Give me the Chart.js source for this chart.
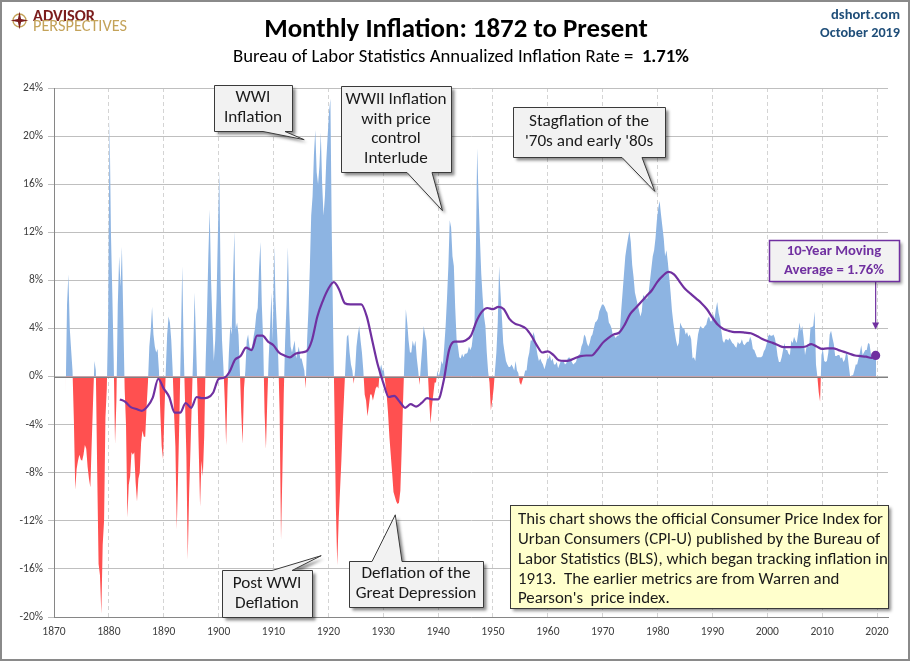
<!DOCTYPE html>
<html>
<head>
<meta charset="utf-8">
<title>Monthly Inflation: 1872 to Present</title>
<script src="https://cdn.jsdelivr.net/npm/chart.js@4.4.1/dist/chart.umd.min.js"></script>
<style>
    html, body { margin: 0; padding: 0; background: #fff; }
    #wrap { width: 910px; height: 661px; }
</style>
</head>
<body>
<div id="wrap"><canvas id="inflationChart" width="910" height="661"></canvas></div>
<script>
const FONT = "Carlito, Lato, 'Open Sans', sans-serif";

// year-over-year inflation, one value per quarter (Q1..Q4 on each line)
const firstYear = 1872;
const quarterlyRate = [
    -1.5, 6.0, 8.5, 4.0,       2.2, 0.5, -3.7, -9.4,      -7.7, -7.0, -6.5, -6.9,    // 1872-1874
    -7.0, -6.5, -5.7, -6.0,    -7.5, -8.5, -9.2, -5.5,    -2.0, 1.3, 0.5, -8.0,      // 1875-1877
    -15.6, -16.5, -19.7, -14.0, -12.0, -3.4, -1.0, 5.0,   21.5, 12.0, 7.0, 1.5,      // 1878-1880
    -5.6, -2.0, 6.0, 10.0,     7.5, 10.8, 5.0, -1.0,      -4.0, -11.7, -9.0, -8.3,   // 1881-1883
    -6.3, -6.5, -6.3, -8.8,    -10.4, -8.5, -8.0, -5.5,   -4.5, -5.0, -5.0, -2.5,    // 1884-1886
    -0.5, 2.5, 3.8, 5.8,       3.5, 2.5, 2.0, 2.3,        0.5, -3.0, -5.8, -6.9,     // 1887-1889
    -3.0, 0.5, 3.5, 5.0,       4.5, 3.0, 0.5, -3.0,       -5.8, -12.7, -8.0, -3.0,   // 1890-1892
    3.0, 9.2, 2.5, -2.0,       -6.5, -15.2, -9.8, -6.0,   -2.0, 2.0, 7.0, 3.0,       // 1893-1895
    -1.0, -6.0, -10.8, -7.0,   -8.3, -5.0, 1.0, 5.0,      10.0, 13.9, 8.0, 4.5,      // 1896-1898
    1.3, 3.0, 6.5, 12.0,       17.1, 7.7, 3.0, 0.8,       -2.0, -5.7, -1.0, 2.0,     // 1899-1901
    4.2, 3.5, 8.0, 12.1,       4.0, 4.5, 3.5, 0.5,        -3.0, -5.6, -1.0, 0.5,     // 1902-1904
    3.0, 3.5, 2.5, 2.3,        2.5, 3.3, 4.0, 5.2,        5.7, 9.0, 11.2, 6.0,       // 1905-1907
    3.0, -3.0, -6.0, -2.0,     1.5, 4.0, 7.0, 3.0,        10.9, 6.5, 4.0, 1.5,       // 1908-1910
    -3.0, -13.6, -8.0, -1.5,   3.0, 6.0, 10.8, 5.5,       2.5, 2.0, 2.5, 3.0,        // 1911-1913
    1.5, 2.0, 2.5, 1.5,        1.5, 1.0, 0.5, -1.0,       3.0, 5.6, 9.0, 13.4,       // 1914-1916
    15.0, 18.5, 20.5, 17.0,    16.0, 17.5, 20.3, 16.0,    13.4, 15.0, 18.0, 20.0,    // 1917-1919
    22.0, 23.1, 12.0, 4.0,     -3.0, -11.0, -15.7, -12.0, -9.5, -7.0, -4.0, -1.5,    // 1920-1922
    1.0, 3.3, 3.5, 2.0,        1.0, 0.5, -0.6, 0.5,       2.5, 3.5, 4.2, 3.0,        // 1923-1925
    2.0, 0.5, -1.5, -2.0,      -3.3, -2.5, -1.5, -1.5,    -2.0, -1.5, -1.0, -0.8,    // 1926-1928
    -1.0, 0.5, 1.0, 0.5,       0.5, -0.5, -1.5, -3.0,     -5.0, -6.5, -8.0, -9.6,    // 1929-1931
    -10.0, -10.4, -10.6, -10.5, -9.5, -6.0, -2.0, 1.5,    5.6, 4.5, 3.0, 2.0,        // 1932-1934
    2.0, 3.0, 2.5, 3.0,        1.5, 0.5, -0.7, 1.0,       2.5, 4.2, 3.5, 3.0,        // 1935-1937
    0.5, -2.0, -3.9, -2.5,     -1.5, -0.5, -0.5, 0.5,     0.0, 0.5, 1.3, 1.0,        // 1938-1940
    2.5, 4.2, 6.5, 9.2,        13.0, 12.4, 10.0, 9.2,     5.7, 3.1, 2.5, 1.6,        // 1941-1943
    1.5, 1.9, 1.6, 1.9,        1.9, 2.0, 2.5, 2.2,        2.5, 3.5, 4.2, 10.0,       // 1944-1946
    19.0, 15.0, 11.5, 8.5,     6.6, 5.0, 4.2, 2.0,        0.4, -0.5, -2.8, -2.0,     // 1947-1949
    -1.0, 0.5, 2.0, 4.5,       9.2, 7.0, 5.0, 2.8,        2.0, 1.3, 1.0, 0.8,        // 1950-1952
    0.8, 1.0, 0.8, 0.5,        1.3, 0.5, 0.3, -0.5,       -0.7, -0.3, 0.0, 0.5,      // 1953-1955
    0.5, 1.5, 2.0, 3.0,        3.0, 3.7, 3.3, 2.5,        1.8, 1.3, 1.5, 1.2,        // 1956-1958
    1.0, 0.6, 1.0, 1.5,        1.5, 1.8, 1.3, 1.5,        1.0, 1.0, 1.2, 0.7,        // 1959-1961
    1.0, 1.3, 1.2, 1.3,        1.0, 1.1, 1.5, 1.6,        1.5, 1.2, 1.0, 1.1,        // 1962-1964
    1.2, 1.6, 1.8, 1.9,        2.5, 2.8, 3.5, 3.3,        2.8, 2.5, 2.8, 3.3,        // 1965-1967
    3.5, 4.0, 4.5, 4.6,        4.8, 5.4, 5.7, 6.0,        6.0, 5.8, 5.5, 5.3,        // 1968-1970
    4.5, 4.3, 4.0, 3.4,        3.4, 3.2, 3.4, 3.4,        3.8, 5.5, 7.0, 8.5,        // 1971-1973
    10.0, 10.8, 11.5, 12.1,    11.2, 9.3, 8.3, 7.0,       6.5, 6.0, 5.5, 5.0,        // 1974-1976
    5.4, 6.8, 6.6, 6.5,        6.5, 7.0, 8.0, 9.0,        10.0, 10.5, 11.5, 13.0,    // 1977-1979
    14.0, 14.6, 13.5, 12.5,    11.5, 10.0, 10.5, 9.5,     8.3, 7.0, 5.5, 4.5,        // 1980-1982
    3.7, 3.0, 2.5, 2.8,        4.5, 4.2, 4.0, 4.0,        3.5, 3.7, 3.3, 3.5,        // 1983-1985
    3.1, 1.5, 1.6, 1.3,        2.5, 3.5, 4.0, 4.2,        4.0, 4.0, 4.2, 4.3,        // 1986-1988
    4.8, 5.0, 4.6, 4.6,        5.2, 4.8, 5.6, 6.2,        5.3, 4.8, 3.8, 3.0,        // 1989-1991
    2.8, 3.1, 3.1, 3.0,        3.2, 3.0, 2.8, 2.7,        2.5, 2.4, 2.9, 2.7,        // 1992-1994
    2.8, 3.1, 2.7, 2.6,        2.8, 2.9, 2.9, 3.3,        3.0, 2.3, 2.2, 1.9,        // 1995-1997
    1.6, 1.6, 1.6, 1.6,        1.7, 2.1, 2.3, 2.7,        3.3, 3.5, 3.4, 3.4,        // 1998-2000
    3.5, 3.2, 2.6, 1.7,        1.2, 1.2, 1.6, 2.2,        2.8, 2.2, 2.2, 1.9,        // 2001-2003
    1.8, 3.0, 2.8, 3.3,        3.0, 2.8, 3.6, 4.5,        3.8, 4.2, 3.2, 1.8,        // 2004-2006
    2.4, 2.7, 2.4, 4.1,        4.1, 4.2, 5.4, 1.0,        0.0, -1.3, -2.1, 1.8,      // 2007-2009
    2.3, 1.3, 1.2, 1.3,        2.0, 3.5, 3.8, 3.2,        2.7, 1.7, 1.7, 1.8,        // 2010-2012
    1.8, 1.5, 1.6, 1.2,        1.4, 2.0, 1.8, 0.8,        -0.1, 0.1, 0.1, 0.5,       // 2013-2015
    1.0, 1.0, 1.5, 2.0,        2.6, 1.8, 2.0, 2.2,        2.2, 2.8, 2.7, 1.9,        // 2016-2018
    1.6, 1.8, 1.7, 1.7                                                               // 2019
];

// 10-year moving average, one value per year
const maFirstYear = 1882;
const movingAvg = [
    -1.9, -2.1, -2.55, -2.7, -2.85, -2.5, -1.75, -0.2,          // 1882-1889
    -1.0, -1.7, -3.0, -3.0, -2.2, -2.6, -1.7, -1.8, -1.75, -1.35, // 1890-1899
    -0.2, -0.1, 0.4, 1.4, 1.7, 2.4, 2.2, 3.4, 3.4, 2.9,         // 1900-1909
    2.6, 2.0, 1.75, 1.6, 1.9, 2.0, 2.1, 3.0, 5.0, 6.3,          // 1910-1919
    7.3, 7.85, 7.2, 6.1, 6.0, 6.0, 6.0, 5.0, 3.0, 1.0,          // 1920-1929
    -0.5, -1.7, -1.6, -2.1, -2.6, -2.3, -2.5, -2.2, -1.8, -1.9, // 1930-1939
    -1.9, -0.4, 2.2, 2.9, 2.9, 3.0, 3.4, 4.6, 5.4, 5.7,         // 1940-1949
    5.6, 5.8, 5.6, 4.8, 4.4, 4.25, 4.0, 3.4, 2.6, 2.0,          // 1950-1959
    2.1, 1.8, 1.35, 1.3, 1.35, 1.55, 1.7, 1.75, 1.75, 2.2,      // 1960-1969
    2.8, 3.2, 3.5, 3.65, 4.3, 5.2, 5.7, 6.2, 6.7, 7.2,          // 1970-1979
    7.9, 8.4, 8.7, 8.5, 7.9, 7.3, 6.9, 6.5, 6.1, 5.6,           // 1980-1989
    4.9, 4.3, 3.95, 3.8, 3.7, 3.7, 3.65, 3.6, 3.4, 3.15,        // 1990-1999
    2.95, 2.8, 2.6, 2.45, 2.45, 2.45, 2.45, 2.5, 2.7, 2.5,      // 2000-2009
    2.3, 2.35, 2.35, 2.2, 2.05, 1.9, 1.75, 1.7, 1.65, 1.55      // 2010-2019
];
const maLatestYear = 2019.75;
const maLatest = 1.76;
const latestRate = '1.71%';

const xMin = 1870, xMax = 2022, xStep = 10;
const yMin = -20, yMax = 24, yStep = 4;

const ratePoints = quarterlyRate.map((v, i) => ({ x: firstYear + (i + 0.5) / 4, y: v }));
const maPoints = movingAvg.map((v, i) => ({ x: maFirstYear + i, y: v }));
maPoints.push({ x: maLatestYear, y: maLatest });

// callout boxes: box = [left, top, width, height] in px, tip = [year, pct], base = pointer root x range
const callouts = [
    { lines: ['WWI', 'Inflation'], box: [214, 85, 78, 46], tip: [1915.6, 19.7], base: [263, 285] },
    { lines: ['WWII Inflation', 'with price', 'control', 'Interlude'], box: [341, 86, 110, 86], tip: [1940.8, 13.8], base: [407, 432] },
    { lines: ['Stagflation of the', "'70s and early '80s"], box: [513, 107, 152, 50], tip: [1979.5, 15.4], base: [622, 642] },
    { lines: ['Post WWI', 'Deflation'], box: [222, 570, 90, 47], tip: [1918.7, -14.9], base: [272, 292] },
    { lines: ['Deflation of the', 'Great Depression'], box: [349, 561, 134, 46], tip: [1932.2, -11.5], base: [372, 402] }
];

const noteLines = [
    'This chart shows the official Consumer Price Index for',
    'Urban Consumers (CPI-U) published by the Bureau of',
    'Labor Statistics (BLS), which began tracking inflation in',
    '1913.  The earlier metrics are from Warren and',
    "Pearson's  price index."
];

function fitSize(ctx, text, weight, target) {
    ctx.font = `${weight} 20px ${FONT}`;
    return 20 * target / ctx.measureText(text).width;
}

function drawCallout(ctx, chart, c, size) {
    const xs = chart.scales.x, ys = chart.scales.y;
    const [bx, by, bw, bh] = c.box;
    const l = bx + 0.5, t = by + 0.5, r = bx + bw + 0.5, b = by + bh + 0.5;
    const tx = xs.getPixelForValue(c.tip[0]);
    const ty = ys.getPixelForValue(c.tip[1]);

    ctx.save();
    ctx.beginPath();
    if (ty > b) {
        ctx.moveTo(l, t); ctx.lineTo(r, t); ctx.lineTo(r, b);
        ctx.lineTo(c.base[1], b); ctx.lineTo(tx, ty); ctx.lineTo(c.base[0], b);
        ctx.lineTo(l, b);
    } else {
        ctx.moveTo(l, t); ctx.lineTo(c.base[0], t); ctx.lineTo(tx, ty); ctx.lineTo(c.base[1], t);
        ctx.lineTo(r, t); ctx.lineTo(r, b); ctx.lineTo(l, b);
    }
    ctx.closePath();
    ctx.shadowColor = 'rgba(0,0,0,0.45)';
    ctx.shadowOffsetX = 3;
    ctx.shadowOffsetY = 3;
    ctx.shadowBlur = 3;
    ctx.fillStyle = '#f2f2f2';
    ctx.fill();
    ctx.shadowColor = 'transparent';
    ctx.lineWidth = 1;
    ctx.strokeStyle = '#3a3a3a';
    ctx.stroke();

    ctx.fillStyle = '#1a1a1a';
    ctx.font = `${size}px ${FONT}`;
    ctx.textAlign = 'center';
    ctx.textBaseline = 'middle';
    const lh = c.lines.length > 2 ? 19.5 : 20;
    const y0 = by + bh / 2 - (c.lines.length - 1) * lh / 2;
    c.lines.forEach((s, i) => ctx.fillText(s, bx + bw / 2, y0 + i * lh));
    ctx.restore();
}

function drawHeader(ctx) {
    ctx.save();
    // frame
    ctx.strokeStyle = '#8a8a8a';
    ctx.lineWidth = 2;
    ctx.strokeRect(1, 1, 908, 659);

    // logo
    ctx.strokeStyle = '#c4a35a';
    ctx.lineWidth = 1.4;
    ctx.beginPath(); ctx.arc(19.5, 20.5, 6.5, 0, Math.PI * 2); ctx.stroke();
    ctx.fillStyle = '#7b1c1c';
    ctx.beginPath();
    for (let k = 0; k < 8; k++) {
        const a = k * Math.PI / 4 - Math.PI / 2;
        const rad = k % 2 === 0 ? 9 : 2.2;
        const px = 19.5 + rad * Math.cos(a), py = 20.5 + rad * Math.sin(a);
        k === 0 ? ctx.moveTo(px, py) : ctx.lineTo(px, py);
    }
    ctx.closePath(); ctx.fill();
    ctx.textAlign = 'left';
    ctx.textBaseline = 'alphabetic';
    ctx.fillStyle = '#7b1c1c';
    ctx.font = `bold ${fitSize(ctx, 'ADVISOR', 'bold', 62)}px ${FONT}`;
    ctx.fillText('ADVISOR', 33, 20.5);
    ctx.fillStyle = '#c4a35a';
    ctx.font = `${fitSize(ctx, 'PERSPECTIVES', 'normal', 94)}px ${FONT}`;
    ctx.fillText('PERSPECTIVES', 33, 31);

    // title
    const title = 'Monthly Inflation: 1872 to Present';
    ctx.fillStyle = '#000';
    ctx.textAlign = 'center';
    ctx.font = `bold ${fitSize(ctx, title, 'bold', 384)}px ${FONT}`;
    ctx.fillText(title, 456, 37);

    // subtitle (regular + bold value)
    const sub = 'Bureau of Labor Statistics Annualized Inflation Rate =  ';
    ctx.font = `normal 20px ${FONT}`;
    const w1 = ctx.measureText(sub).width;
    ctx.font = `bold 20px ${FONT}`;
    const w2 = ctx.measureText(latestRate).width;
    const s = 20 * 456 / (w1 + w2);
    ctx.textAlign = 'left';
    ctx.font = `normal ${s}px ${FONT}`;
    ctx.fillText(sub, 233, 62);
    ctx.font = `bold ${s}px ${FONT}`;
    ctx.fillText(latestRate, 233 + w1 * s / 20, 62);

    // source and date
    ctx.fillStyle = '#1f4e79';
    ctx.textAlign = 'right';
    ctx.font = `bold ${fitSize(ctx, 'dshort.com', 'bold', 69)}px ${FONT}`;
    ctx.fillText('dshort.com', 900, 19);
    ctx.font = `bold ${fitSize(ctx, 'October 2019', 'bold', 80)}px ${FONT}`;
    ctx.fillText('October 2019', 900, 37);
    ctx.restore();
}

function drawNote(ctx) {
    const bx = 510, by = 505, bw = 378, bh = 103;
    ctx.save();
    ctx.shadowColor = 'rgba(0,0,0,0.45)';
    ctx.shadowOffsetX = 3;
    ctx.shadowOffsetY = 3;
    ctx.shadowBlur = 3;
    ctx.fillStyle = '#ffffcc';
    ctx.fillRect(bx, by, bw, bh);
    ctx.shadowColor = 'transparent';
    ctx.strokeStyle = '#3a3a3a';
    ctx.lineWidth = 1;
    ctx.strokeRect(bx + 0.5, by + 0.5, bw, bh);
    ctx.fillStyle = '#1a1a1a';
    ctx.font = `${fitSize(ctx, noteLines[0], 'normal', 365)}px ${FONT}`;
    ctx.textAlign = 'left';
    ctx.textBaseline = 'middle';
    noteLines.forEach((s, i) => ctx.fillText(s, 518, 520 + i * 19.8));
    ctx.restore();
}

function drawMaLabel(ctx, chart) {
    const bx = 769, by = 240, bw = 130, bh = 41;
    const ax = chart.scales.x.getPixelForValue(maLatestYear);
    const ay = chart.scales.y.getPixelForValue(4.0);
    ctx.save();
    ctx.strokeStyle = '#7030a0';
    ctx.fillStyle = '#7030a0';
    ctx.lineWidth = 1.2;
    ctx.beginPath();
    ctx.moveTo(ax, by + bh);
    ctx.lineTo(ax, ay - 4);
    ctx.stroke();
    ctx.beginPath();
    ctx.moveTo(ax - 3.5, ay - 6); ctx.lineTo(ax + 3.5, ay - 6); ctx.lineTo(ax, ay + 1);
    ctx.closePath(); ctx.fill();

    ctx.shadowColor = 'rgba(0,0,0,0.4)';
    ctx.shadowOffsetX = 3;
    ctx.shadowOffsetY = 3;
    ctx.shadowBlur = 3;
    ctx.fillStyle = '#f2f2f2';
    ctx.fillRect(bx, by, bw, bh);
    ctx.shadowColor = 'transparent';
    ctx.lineWidth = 1.5;
    ctx.strokeRect(bx + 0.5, by + 0.5, bw, bh);
    ctx.fillStyle = '#7030a0';
    ctx.textAlign = 'center';
    ctx.textBaseline = 'middle';
    ctx.font = `bold ${fitSize(ctx, 'Average = 1.76%', 'bold', 100)}px ${FONT}`;
    ctx.fillText('10-Year Moving', bx + bw / 2, by + 11.5);
    ctx.fillText('Average = ' + maLatest.toFixed(2) + '%', bx + bw / 2, by + 30);
    ctx.restore();
}

const overlayPlugin = {
    id: 'overlay',
    afterDatasetDraw(chart, args) {
        if (args.index !== 1) return;
        // zero line on top of the filled area
        const { ctx, chartArea } = chart;
        const y0 = Math.round(chart.scales.y.getPixelForValue(0)) + 0.5;
        ctx.save();
        ctx.strokeStyle = '#808080';
        ctx.lineWidth = 1;
        ctx.beginPath();
        ctx.moveTo(chartArea.left, y0);
        ctx.lineTo(chartArea.right, y0);
        ctx.stroke();
        ctx.restore();
    },
    afterDraw(chart) {
        const ctx = chart.ctx;
        drawHeader(ctx);
        const size = fitSize(ctx, 'Stagflation of the', 'normal', 120);
        callouts.forEach((c) => drawCallout(ctx, chart, c, size));
        drawNote(ctx);
        drawMaLabel(ctx, chart);
    }
};

new Chart(document.getElementById('inflationChart').getContext('2d'), {
    type: 'line',
    data: {
        datasets: [
            {
                label: '10-Year Moving Average',
                data: maPoints,
                order: 0,
                borderColor: '#7030a0',
                borderWidth: 2.2,
                fill: false,
                cubicInterpolationMode: 'monotone',
                pointRadius: (c) => (c.dataIndex === maPoints.length - 1 ? 3.5 : 0),
                pointBackgroundColor: '#7030a0',
                pointBorderColor: '#7030a0'
            },
            {
                label: 'Monthly Inflation',
                data: ratePoints,
                order: 1,
                borderWidth: 0,
                borderColor: 'rgba(0,0,0,0)',
                pointRadius: 0,
                tension: 0,
                fill: { target: 'origin', above: '#8db4e2', below: '#ff5050' }
            }
        ]
    },
    options: {
        responsive: false,
        animation: false,
        layout: { padding: { top: 88, right: 22, left: 0, bottom: 0 } },
        plugins: { legend: { display: false }, tooltip: { enabled: false } },
        scales: {
            x: {
                type: 'linear',
                min: xMin,
                max: xMax,
                ticks: {
                    stepSize: xStep,
                    includeBounds: false,
                    maxRotation: 0,
                    padding: 8,
                    color: '#404040',
                    font: { family: FONT, size: 11.5 },
                    callback: (v) => String(v)
                },
                grid: { color: '#d4d4d4', drawTicks: false },
                border: { color: '#868686', dash: [4, 3] },
                afterFit: (scale) => { scale.height = 44; }
            },
            y: {
                min: yMin,
                max: yMax,
                ticks: {
                    stepSize: yStep,
                    padding: 5,
                    color: '#404040',
                    font: { family: FONT, size: 11.5 },
                    callback: (v) => v + '%'
                },
                grid: { color: '#bfbfbf', tickLength: 6 },
                border: { color: '#868686' },
                afterFit: (scale) => { scale.width = 54; }
            }
        }
    },
    plugins: [overlayPlugin]
});
</script>
</body>
</html>
